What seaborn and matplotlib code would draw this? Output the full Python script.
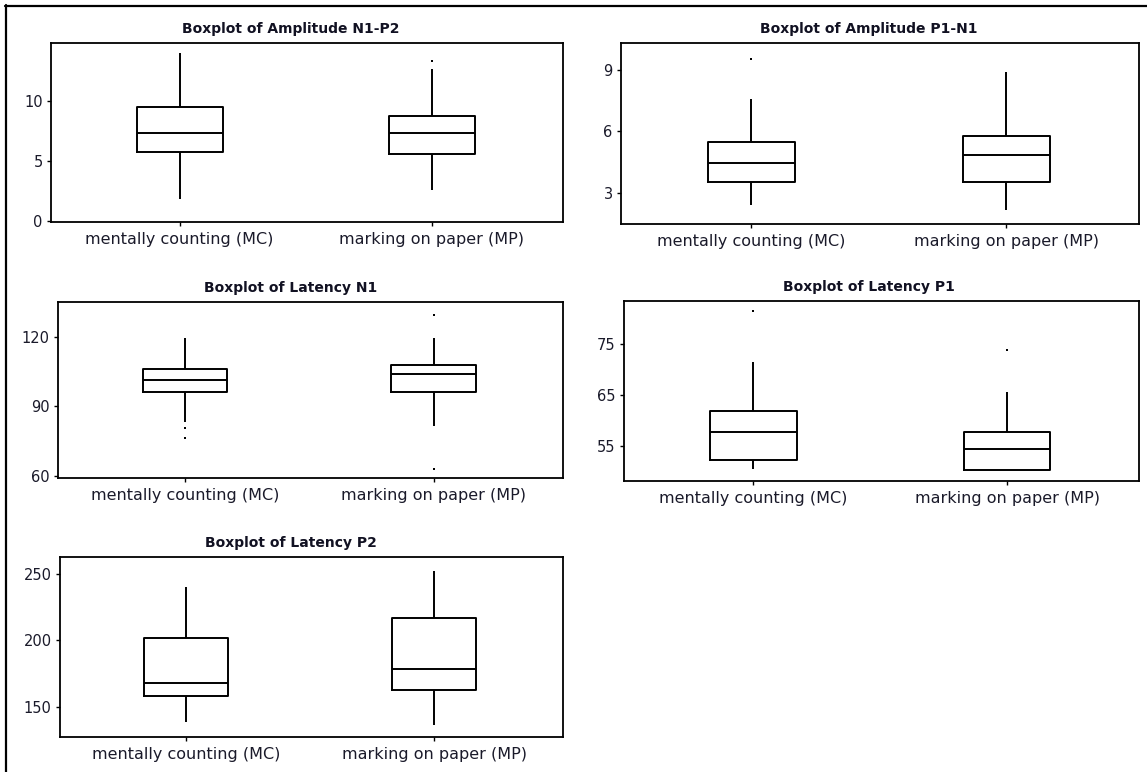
import numpy as np
import pandas as pd
import matplotlib
matplotlib.use("Agg")
import matplotlib.pyplot as plt
from matplotlib.lines import Line2D
import seaborn as sns

groups = ["mentally counting (MC)", "marking on paper (MP)"]

# Five-number summaries per group: lower whisker, Q1, median, Q3, upper whisker
amp_n1p2_mc = [1.8, 5.7, 7.3, 9.5, 14.0]
amp_n1p2_mp = [2.6, 5.6, 7.3, 8.7, 12.6]
amp_p1n1_mc = [2.4, 3.55, 4.47, 5.5, 7.6]
amp_p1n1_mp = [2.2, 3.55, 4.86, 5.8, 8.9]
lat_n1_mc = [83.2, 96.3, 101.2, 106.3, 119.3]
lat_n1_mp = [81.6, 96.3, 103.8, 108.0, 119.3]
lat_p1_mc = [50.5, 52.3, 57.8, 61.8, 71.5]
lat_p1_mp = [50.3, 50.3, 54.3, 57.8, 65.5]
lat_p2_mc = [138.6, 158.5, 167.7, 202.0, 240.0]
lat_p2_mp = [136.6, 162.8, 178.2, 217.0, 252.0]

# Outlying observations (group, value)
amp_n1p2_out_grp = ["marking on paper (MP)"]
amp_n1p2_out_val = [13.3]
amp_p1n1_out_grp = ["mentally counting (MC)"]
amp_p1n1_out_val = [9.5]
lat_n1_out_grp = ["mentally counting (MC)", "mentally counting (MC)",
                  "marking on paper (MP)", "marking on paper (MP)"]
lat_n1_out_val = [80.9, 76.6, 129.5, 63.1]
lat_p1_out_grp = ["mentally counting (MC)", "marking on paper (MP)"]
lat_p1_out_val = [81.4, 73.8]
lat_p2_out_grp = []
lat_p2_out_val = []

titles = ["Boxplot of Amplitude N1-P2", "Boxplot of Amplitude P1-N1",
          "Boxplot of Latency N1", "Boxplot of Latency P1",
          "Boxplot of Latency P2"]
yticks = [[0, 5, 10], [3, 6, 9], [60, 90, 120], [55, 65, 75], [150, 200, 250]]
ylims = [(-0.1, 14.8), (1.5, 10.3), (59.2, 135.0), (48.1, 83.4), (127.4, 262.8)]

panels = [
    (amp_n1p2_mc, amp_n1p2_mp, amp_n1p2_out_grp, amp_n1p2_out_val),
    (amp_p1n1_mc, amp_p1n1_mp, amp_p1n1_out_grp, amp_p1n1_out_val),
    (lat_n1_mc, lat_n1_mp, lat_n1_out_grp, lat_n1_out_val),
    (lat_p1_mc, lat_p1_mp, lat_p1_out_grp, lat_p1_out_val),
    (lat_p2_mc, lat_p2_mp, lat_p2_out_grp, lat_p2_out_val),
]

sns.set_theme(style="ticks")
plt.rcParams["font.family"] = ["DejaVu Sans"]

W, H = 1147, 772
fig = plt.figure(figsize=(W / 100, H / 100), dpi=100)
fig.patch.set_facecolor("white")

# axes boxes in pixel units: left, right, top, bottom
boxes_px = [
    (51, 563, 43, 222),
    (621, 1139, 43, 224),
    (58, 563, 302, 478),
    (624, 1139, 301, 481),
    (60, 563, 557, 737),
]
# horizontal centre of each panel title, in pixels (centred on the panel region)
title_cx = [291, 869, 291, 869, 291]

for i, (mc, mp, og, ov) in enumerate(panels):
    l, r, t, b = boxes_px[i]
    ax = fig.add_axes([l / W, 1 - b / H, (r - l) / W, (b - t) / H])
    df = pd.DataFrame({
        "group": [groups[0]] * len(mc) + [groups[1]] * len(mp),
        "value": mc + mp,
    })
    sns.boxplot(data=df, x="group", y="value", order=groups, whis=np.inf,
                fill=False, color="black", width=0.34, linewidth=1.4,
                showcaps=False, ax=ax)
    if ov:
        sns.stripplot(x=og, y=ov, order=groups, jitter=False, size=2,
                      color="black", marker="s", linewidth=0, ax=ax)
    ax.set_xlim(-0.51, 1.52)
    ax.set_ylim(*ylims[i])
    ax.set_yticks(yticks[i])
    ax.set_xlabel("")
    ax.set_ylabel("")
    ax.set_title(titles[i], fontsize=10, fontweight="bold", pad=7, color="#111122")
    ax.title.set_x((title_cx[i] - l) / (r - l))
    for s in ax.spines.values():
        s.set_visible(True)
        s.set_color("black")
        s.set_linewidth(1.3)
    ax.tick_params(axis="both", length=3, width=1.0, color="black",
                   labelcolor="#1a1a2a")
    ax.tick_params(axis="y", labelsize=10.5, pad=3)
    ax.tick_params(axis="x", labelsize=11.5, pad=4)

# outer frame strokes on the top and left edges
fig.add_artist(Line2D([5 / W, 1], [1 - 6 / H, 1 - 6 / H], color="black", lw=1.6))
fig.add_artist(Line2D([6 / W, 6 / W], [0, 1 - 5 / H], color="black", lw=1.6))

fig.savefig("out.png", dpi=100, facecolor="white")
